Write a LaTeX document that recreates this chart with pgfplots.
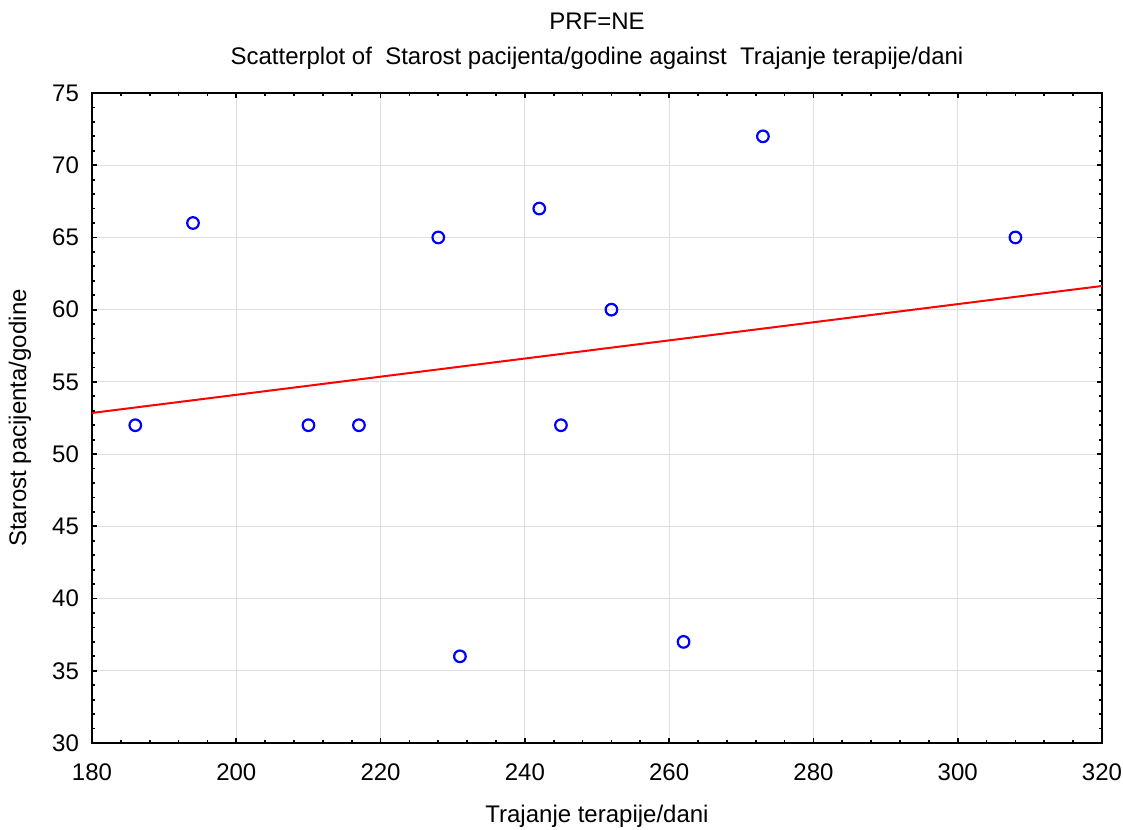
\documentclass[border=0pt]{standalone}
\usepackage{fontspec}
\setmainfont{Liberation Sans}
\usepackage{pgfplots}
\pgfplotsset{compat=1.18}

\pgfplotsset{/pgf/number format/assume math mode=true}

\begin{document}
\begin{tikzpicture}
\begin{axis}[
    scale only axis,
    width=505pt, height=325pt,
    xmin=180, xmax=320, ymin=30, ymax=75,
    xtick={180,200,...,320}, ytick={30,35,...,75},
    minor tick num=4,
    tick align=inside,
    major tick length=2.5pt, minor tick length=1.5pt,
    every tick/.style={black, line width=0.9pt},
    axis line style={line width=1.2pt},
    xmajorgrids, ymajorgrids,
    grid style={gray!25, line width=0.5pt},
    font=\fontsize{12}{14}\selectfont,
    tick label style={font=\fontsize{12}{14}\selectfont},
    xticklabel style={yshift=-7pt},
    yticklabel style={xshift=-3pt},
    title={PRF=NE\\[3.5pt]Scatterplot of \ Starost pacijenta/godine against \ Trajanje terapije/dani},
    title style={align=center, at={(axis description cs:0.5,1.0608)}, anchor=center},
    xlabel={Trajanje terapije/dani},
    ylabel={Starost pacijenta/godine},
    xlabel style={at={(axis description cs:0.5,-0.113)}, anchor=center},
    ylabel style={at={(axis description cs:-0.0713,0.5)}, anchor=center, rotate=0},
    clip=false,
]
\addplot[red, line width=1pt, no marks] coordinates {(180,52.85) (320,61.64)};
\addplot[only marks, mark=o, mark size=2.9pt, blue, mark options={line width=1.1pt}] coordinates {
(186,52) (194,66) (210,52) (217,52) (228,65) (231,36)
(242,67) (245,52) (252,60) (262,37) (273,72) (308,65)
};
\coordinate (bbsw) at (axis description cs:-0.0911,-0.1338);
\coordinate (bbne) at (axis description cs:1.0208,1.1431);
\end{axis}
\pgfresetboundingbox
\path[use as bounding box] (bbsw) rectangle (bbne);
\end{tikzpicture}
\end{document}
